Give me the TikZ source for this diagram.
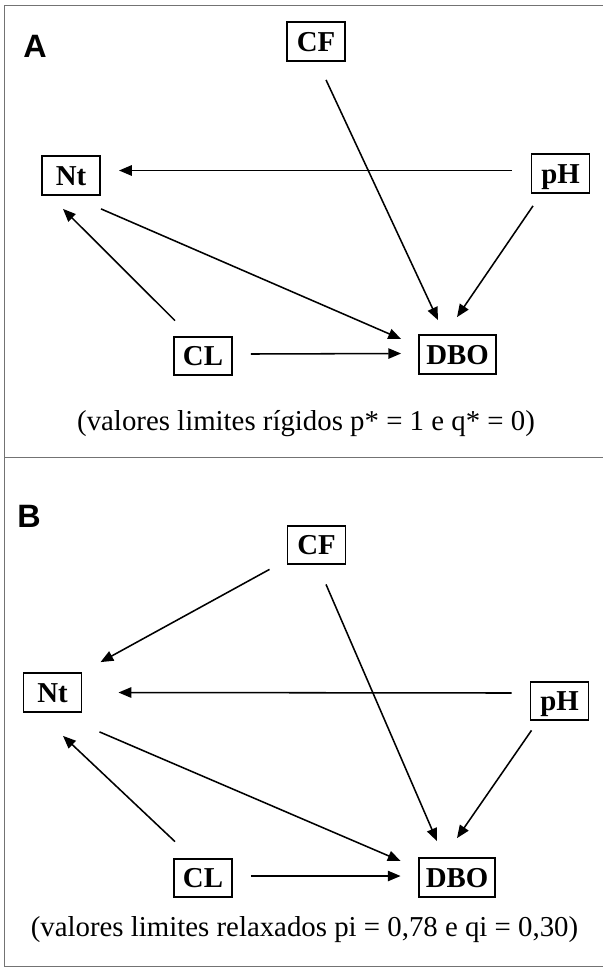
\documentclass[tikz,border=0pt]{standalone}
\usepackage{fontspec}
\setmainfont{Liberation Serif}
\newfontfamily\panelfont{Liberation Sans}
\usetikzlibrary{arrows.meta}

\begin{document}
\begin{tikzpicture}[
      % One unit is one pixel of the page, y runs downwards
      x=0.025cm, y=-0.025cm,
      % Define styles for the elements
      base/.style={
          rectangle,
          draw,
          line width=1.4pt,
          text centered,
          font=\fontsize{20.5}{24}\selectfont\bfseries,
          minimum width=1.45cm,
          text height=0.48cm,
          text depth=0cm,
          inner ysep=0.245cm,
          inner xsep=0.18cm
        },
      panel/.style={
          anchor=base,
          font=\panelfont\fontsize{23}{27}\selectfont\bfseries
        },
      caption/.style={
          anchor=base,
          font=\fontsize{20.5}{24}\selectfont
        },
      frame/.style={
          draw=black!55,
          line width=0.7pt
        },
      arrow/.style={
          -{Triangle[length=0.32cm,width=0.26cm]}, % Arrow tip style
          line width=1.1pt
        }
    ]

    \useasboundingbox (0,0) rectangle (603,967);

    % Frame round both panels
    \draw[frame] (603,5) -- (4,5) -- (4,966) -- (603,966);
    \draw[frame] (4,457) -- (603,457);

    % Panel A: place the nodes
    \node[panel] (labelA) at (35,57) {A};
    \node[base] (cfA) at (316,41.5) {CF};
    \node[base] (ntA) at (71,175.5) {Nt};
    \node[base] (phA) at (560.5,173.5) {pH};
    \node[base] (clA) at (203,356) {CL};
    \node[base] (dboA) at (457.5,354.5) {DBO};
    \node[caption] (capA) at (306,430) {(valores limites rígidos p* = 1 e q* = 0)};

    % Panel A: draw the arrows
    \draw[arrow] ([shift={(-19,-3)}]phA.west) -- ([shift={(18,-5)}]ntA.east);
    \draw[arrow] ([shift={(10,18)}]cfA.south) -- ([shift={(-19.5,-14)}]dboA.north);
    \draw[arrow] ([shift={(-27.5,12)}]phA.south) -- ([shift={(-0.5,-17)}]dboA.north);
    \draw[arrow] ([shift={(0,13)}]ntA.south east) -- ([shift={(-17,-15.5)}]dboA.west);
    \draw[arrow] ([shift={(2,-15)}]clA.north west) -- ([shift={(-8,13)}]ntA.south);
    \draw[arrow] ([shift={(18,-2)}]clA.east) -- ([shift={(-17,-1)}]dboA.west);

    % Panel B: place the nodes
    \node[panel] (labelB) at (29,527) {B};
    \node[base] (cfB) at (316.5,545) {CF};
    \node[base] (ntB) at (52.5,692.5) {Nt};
    \node[base] (phB) at (559.5,701) {pH};
    \node[base] (clB) at (203,878) {CL};
    \node[base] (dboB) at (457,877.5) {DBO};
    \node[caption] (capB) at (304.5,936) {(valores limites relaxados pi = 0,78 e qi = 0,30)};

    % Panel B: draw the arrows
    \draw[arrow] ([shift={(-17,4)}]cfB.south west) -- ([shift={(18,-10)}]ntB.north east);
    \draw[arrow] ([shift={(-18,-8)}]phB.west) -- ([shift={(36,0)}]ntB.east);
    \draw[arrow] ([shift={(9.5,19)}]cfB.south) -- ([shift={(-20,-16)}]dboB.north);
    \draw[arrow] ([shift={(-28,9)}]phB.south) -- ([shift={(0,-19)}]dboB.north);
    \draw[arrow] ([shift={(17,19)}]ntB.south east) -- ([shift={(-17,-16.5)}]dboB.west);
    \draw[arrow] ([shift={(2,-16)}]clB.north west) -- ([shift={(10.5,23)}]ntB.south);
    \draw[arrow] ([shift={(18,-2)}]clB.east) -- ([shift={(-17,-1.5)}]dboB.west);

  \end{tikzpicture}
\end{document}
